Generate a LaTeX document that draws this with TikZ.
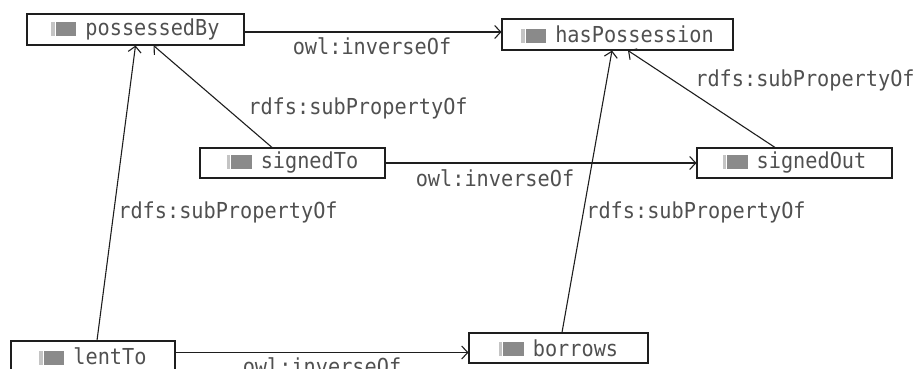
\documentclass[tikz,border=0pt]{standalone}
\usepackage{fontspec}
\setmonofont[FakeStretch=0.92]{DejaVu Sans Mono}
\usetikzlibrary{arrows.meta}
\definecolor{txt}{HTML}{505050}
\definecolor{icondark}{HTML}{8A8A8A}
\definecolor{iconlight}{HTML}{C4C4C4}
\definecolor{ln}{HTML}{1E1E1E}
\newcommand\propicon{{\color{iconlight}\rule{3.5pt}{14pt}}\hspace{1pt}{\color{icondark}\rule{20.5pt}{14pt}}\hspace{9pt}}
\tikzset{
  prop/.style={draw=ln, line width=1.1pt, rectangle, inner sep=0pt, minimum height=31pt,
    font=\ttfamily\fontsize{22}{24}\selectfont, text=txt},
  lbl/.style={inner sep=0pt, font=\ttfamily\fontsize{22}{24}\selectfont, text=txt},
  conn/.style={draw=ln, line width=1.1pt, -{Straight Barb[length=6pt,width=13pt,line width=1.1pt]}}
}
\begin{document}
\begin{tikzpicture}[x=1pt,y=-1pt]
\useasboundingbox (0,0) rectangle (923,369);
\clip (0,0) rectangle (923,369);
\node[prop, minimum width=217pt] (possessedBy) at (135.5,29.5) {\propicon possessedBy};
\node[prop, minimum width=231pt] (hasPossession) at (617.5,34.5) {\propicon hasPossession};
\node[prop, minimum width=185pt, minimum height=30pt] (signedTo) at (292.5,163) {\propicon signedTo};
\node[prop, minimum width=195pt, minimum height=30pt] (signedOut) at (794.5,163) {\propicon signedOut};
\node[prop, minimum width=164pt] (lentTo) at (93,356.5) {\propicon lentTo};
\node[prop, minimum width=179pt, minimum height=30pt] (borrows) at (558.5,348) {\propicon borrows};

\draw[conn] ([yshift=-2.5pt]possessedBy.east) -- ([yshift=2.5pt]hasPossession.west);
\draw[conn] (signedTo.east) -- (signedOut.west);
\draw[conn] ([yshift=4pt]lentTo.east) -- ([yshift=-4.5pt]borrows.west);
\draw[conn] ([xshift=4pt]lentTo.north) -- (possessedBy.south);
\draw[conn] ([xshift=-20.5pt]signedTo.north) -- ([xshift=18pt]possessedBy.south);
\draw[conn] ([xshift=3.5pt]borrows.north) -- ([xshift=-5.5pt]hasPossession.south);
\draw[conn] ([xshift=-19.5pt]signedOut.north) -- ([xshift=10.5pt]hasPossession.south);

\node[lbl] (l1) at (372,46) {owl:inverseOf};
\node[lbl] (l2) at (495,178) {owl:inverseOf};
\node[lbl] (l3) at (322,366) {owl:inverseOf};
\node[lbl] (l4) at (358,108) {rdfs:subPropertyOf};
\node[lbl] (l5) at (228,212) {rdfs:subPropertyOf};
\node[lbl] (l6) at (696,212) {rdfs:subPropertyOf};
\node[lbl] (l7) at (805,80) {rdfs:subPropertyOf};
\end{tikzpicture}
\end{document}
